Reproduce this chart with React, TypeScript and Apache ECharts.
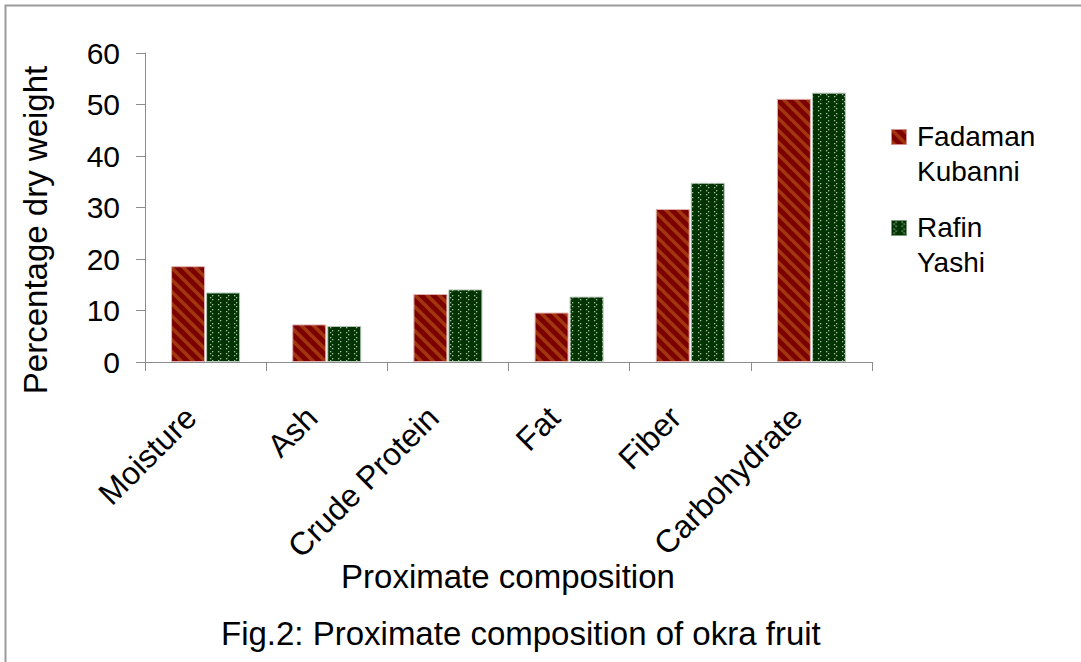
import React, { useEffect, useRef } from "react";
import * as echarts from "echarts";

const categories = ["Moisture", "Ash", "Crude Protein", "Fat", "Fiber", "Carbohydrate"];
const seriesNames = ["Fadaman\nKubanni", "Rafin\nYashi"];
const fadamanKubanni = [18.6, 7.3, 13.2, 9.6, 29.7, 51.1];
const rafinYashi = [13.5, 7.0, 14.1, 12.7, 34.8, 52.3];
const yTicks = { min: 0, max: 60, interval: 10 };
const xAxisTitle = "Proximate composition";
const yAxisTitle = "Percentage dry weight";
const caption = "Fig.2: Proximate composition of okra fruit";

const FONT = "Liberation Sans, Arial, Helvetica, sans-serif";

function stripePattern(): any {
  const c = document.createElement("canvas");
  const s = 12;
  c.width = s;
  c.height = s;
  const ctx = c.getContext("2d")!;
  ctx.fillStyle = "#7c0000";
  ctx.fillRect(0, 0, s, s);
  ctx.strokeStyle = "#a2360e";
  ctx.lineWidth = 3.6;
  for (let k = -2; k <= 2; k++) {
    ctx.beginPath();
    ctx.moveTo(k * s - 2, -2);
    ctx.lineTo(k * s + s + 2, s + 2);
    ctx.stroke();
  }
  return { image: c.toDataURL(), repeat: "repeat", imageWidth: s, imageHeight: s };
}

function chevronPattern(): any {
  const c = document.createElement("canvas");
  const w = 16;
  const h = 14;
  c.width = w;
  c.height = h;
  const ctx = c.getContext("2d")!;
  ctx.fillStyle = "#013401";
  ctx.fillRect(0, 0, w, h);
  ctx.fillStyle = "#a8c0a8";
  const dot = (x: number, y: number) => ctx.fillRect(x, y, 1.3, 1.3);
  const lt = (x: number, y: number) => {
    dot(x + 2, y);
    dot(x, y + 2);
    dot(x + 2, y + 4);
  };
  const gt = (x: number, y: number) => {
    dot(x, y);
    dot(x + 2, y + 2);
    dot(x, y + 4);
  };
  lt(2, 1);
  gt(10, 1);
  gt(2, 8);
  lt(10, 8);
  return { image: c.toDataURL(), repeat: "repeat", imageWidth: w, imageHeight: h };
}

export default function App() {
  const ref = useRef<HTMLDivElement>(null);
  useEffect(() => {
    if (!ref.current) return;
    const chart = echarts.init(ref.current, undefined, { renderer: "svg" });
    const redPat = stripePattern();
    const greenPat = chevronPattern();
    const pats = [redPat, greenPat];
    const legendTop = [119, 210];
    const legendGraphics: any[] = [];
    seriesNames.forEach((n, i) => {
      legendGraphics.push({
        type: "rect",
        left: 891,
        top: legendTop[i] + 10,
        shape: { width: 15, height: 15 },
        style: { fill: pats[i], stroke: i === 0 ? "#d49090" : "#7a9a7a", lineWidth: 1 },
      });
      legendGraphics.push({
        type: "text",
        left: 917,
        top: legendTop[i],
        style: {
          text: n,
          font: `28px ${FONT}`,
          fill: "#000",
          lineHeight: 35,
        },
      });
    });

    chart.setOption({
      animation: false,
      backgroundColor: "#fff",
      title: {
        text: caption,
        left: 216,
        top: 612,
        textStyle: { fontFamily: FONT, fontSize: 33, fontWeight: "normal", color: "#000" },
      },
      grid: { left: 145, right: 209, top: 53, bottom: 300, containLabel: false },
      xAxis: {
        type: "category",
        data: categories,
        axisLine: { lineStyle: { color: "#8c8c8c", width: 1 } },
        axisTick: { show: true, length: 9, lineStyle: { color: "#8c8c8c" } },
        axisLabel: {
          rotate: 45,
          interval: 0,
          margin: 58,
          verticalAlign: "bottom",
          align: "right",
          padding: [0, 5, 0, 0],
          fontFamily: FONT,
          fontSize: 32,
          color: "#000",
        },
      },
      yAxis: {
        type: "value",
        min: yTicks.min,
        max: yTicks.max,
        interval: yTicks.interval,
        axisLine: { show: true, lineStyle: { color: "#8c8c8c", width: 1 } },
        axisTick: { show: true, length: 9, lineStyle: { color: "#8c8c8c" } },
        splitLine: { show: false },
        axisLabel: { margin: 25, fontFamily: FONT, fontSize: 30, color: "#000" },
      },
      series: [
        {
          name: seriesNames[0],
          type: "bar",
          data: fadamanKubanni,
          barWidth: 34,
          barGap: "3%",
          itemStyle: { color: redPat, borderColor: "#e0b0b0", borderWidth: 1 },
        },
        {
          name: seriesNames[1],
          type: "bar",
          data: rafinYashi,
          barWidth: 34,
          barGap: "3%",
          itemStyle: { color: greenPat, borderColor: "#b8c8b8", borderWidth: 1 },
        },
      ],
      graphic: [
        {
          type: "polyline",
          shape: { points: [[5.5, 662], [5.5, 5.5], [1081, 5.5]] },
          style: { stroke: "#9a9a9a", lineWidth: 2, fill: "none" },
        },
        {
          type: "text",
          x: 35,
          y: 230,
          rotation: Math.PI / 2,
          style: {
            text: yAxisTitle,
            font: `33px ${FONT}`,
            fill: "#000",
            align: "center",
            verticalAlign: "middle",
          },
        },
        {
          type: "text",
          x: 508,
          y: 576,
          style: {
            text: xAxisTitle,
            font: `33px ${FONT}`,
            fill: "#000",
            align: "center",
            verticalAlign: "middle",
          },
        },
        ...legendGraphics,
      ],
    });
    return () => chart.dispose();
  }, []);
  return (
    <div
      ref={ref}
      style={{ position: "absolute", left: 0, top: 0, width: 1081, height: 662 }}
    />
  );
}
